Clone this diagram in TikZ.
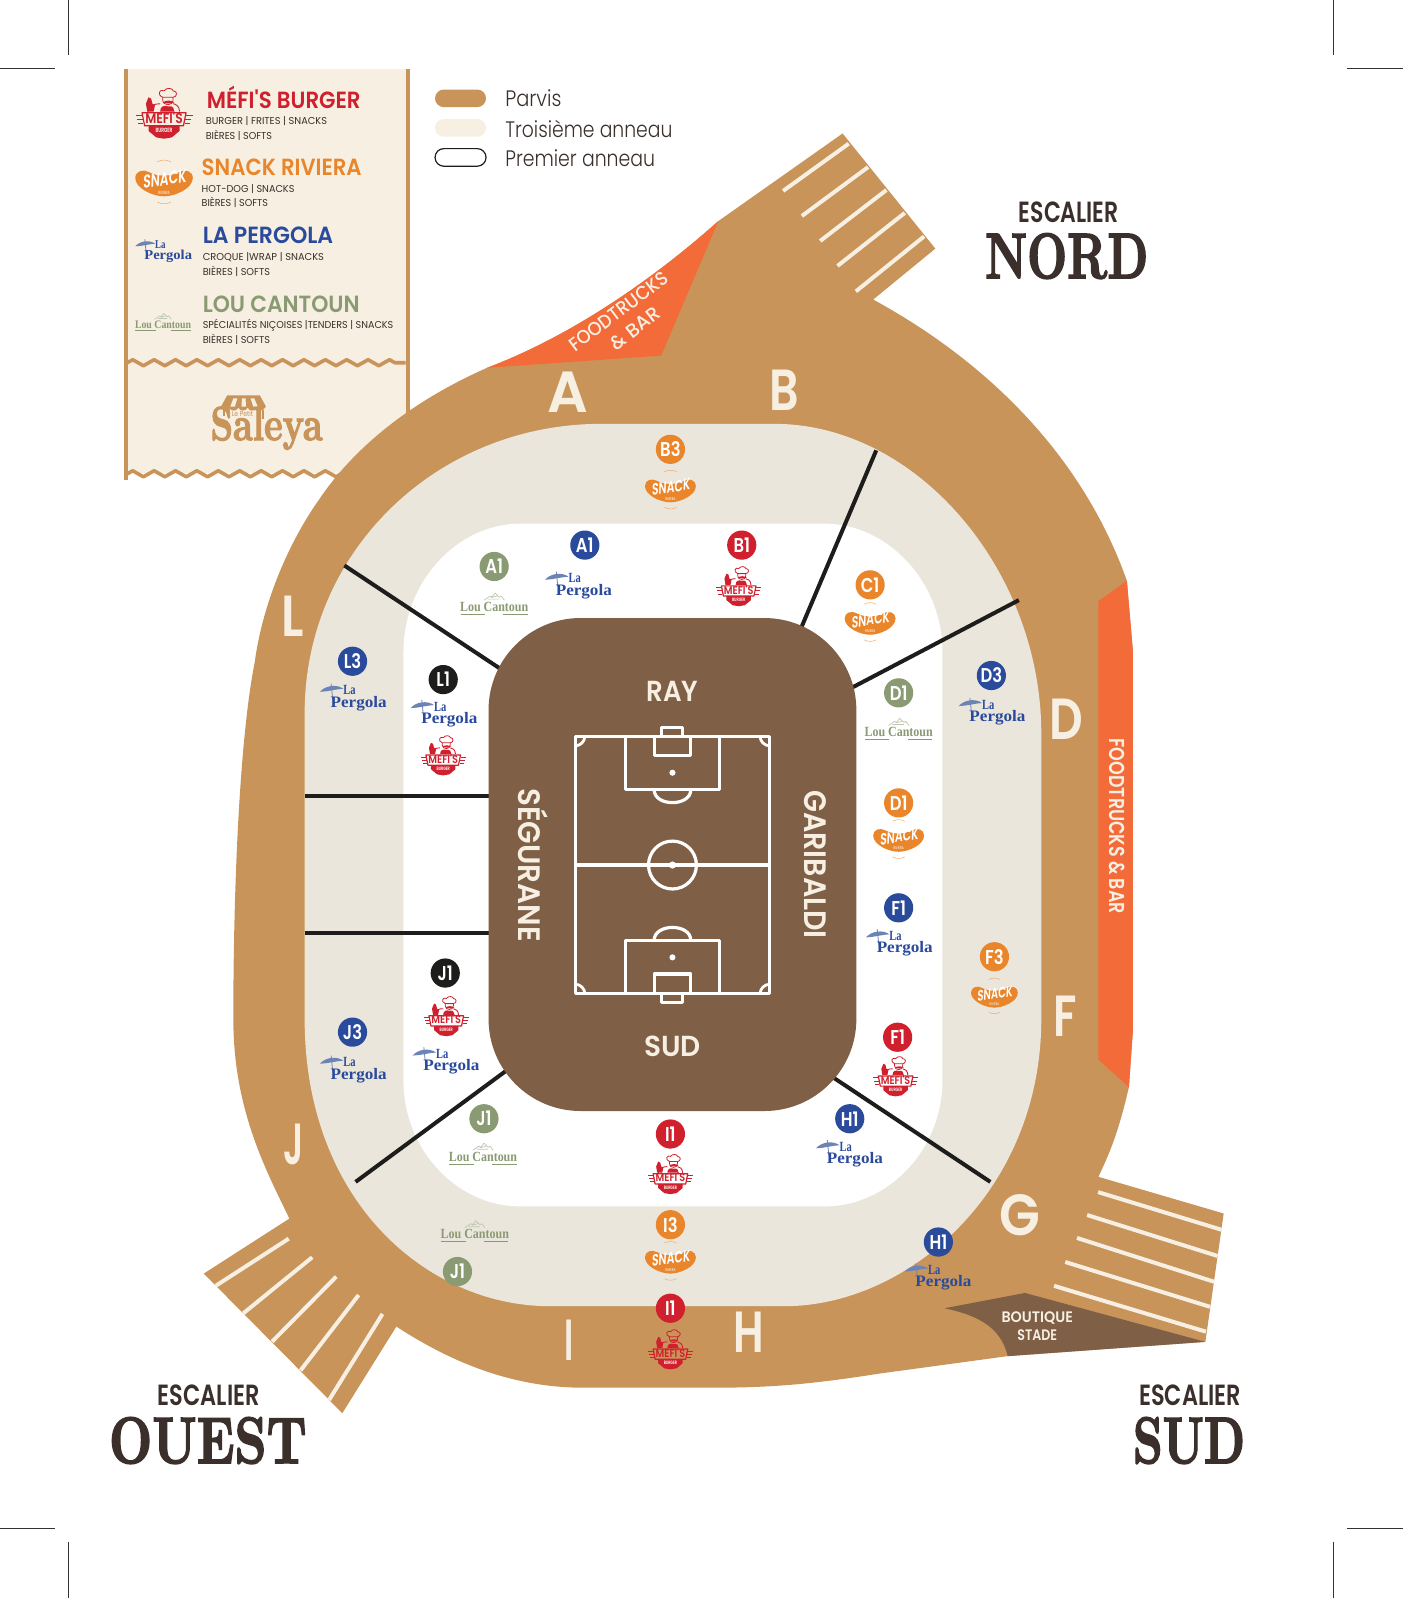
\documentclass[tikz,border=0pt]{standalone}
\usepackage{fontspec}
\usepackage{graphicx}
\usetikzlibrary{decorations.pathmorphing}
\newfontfamily\Fr{Poppins}
\newfontfamily\Fm{Poppins Medium}
\newfontfamily\Fb{Poppins SemiBold}
\newfontfamily\Fl{Poppins Light}
\newfontfamily\Fs{Liberation Serif}
\newfontfamily\Fd[FakeBold=2.5,Extension=.otf]{lmroman10-bold}
\newlength\uu \setlength\uu{0.50944pt}
\newcommand\tw[2]{\resizebox{#1\uu}{\height}{#2}}
\newcommand\fz[1]{\fontsize{#1}{#1}\selectfont}
\definecolor{parvis}{HTML}{C89459}
\definecolor{ring3}{HTML}{EBE6DC}
\definecolor{cream}{HTML}{F6EFE2}
\definecolor{brun}{HTML}{7F6047}
\definecolor{feu}{HTML}{F26B38}
\definecolor{sombre}{HTML}{3A2F2A}
\definecolor{mr}{HTML}{D0202E}
\definecolor{sn}{HTML}{E9862B}
\definecolor{pb}{HTML}{2A4A9C}
\definecolor{pu}{HTML}{6C84B4}
\definecolor{lc}{HTML}{8A9A72}
\definecolor{trait}{HTML}{1D1D1B}
\tikzset{
  lab/.style={inner sep=0pt,outer sep=0pt,anchor=base,transform shape},
  labw/.style={inner sep=0pt,outer sep=0pt,anchor=base west},
  badge/.style={circle,minimum size=14.6pt,inner sep=0pt,text=white,font=\Fb\fz{10}},
  stripe/.style={cream,line width=2pt},
  sep/.style={trait,line width=2pt},
  pitch/.style={white,line width=1.6pt,line join=round},
  crop/.style={black!80,line width=.4pt},
  swatch/.style={rounded corners=4.4pt,minimum width=25.5pt,minimum height=8.8pt,inner sep=0pt},
  mefi/.pic={
    % shoulders
    \draw[mr,line width=.45pt] (-12,-2) .. controls (-11,-7) and (-7,-8) .. (-3,-8) (12,-2) .. controls (12,-6) and (9,-8) .. (7,-8);
    \fill[mr] (-3,-2) .. controls (-3,-6) and (0,-7) .. (3,-6) .. controls (7,-7) and (8,-4) .. (8,-2) -- cycle;
    % thumb
    \fill[mr] (-13,-2) -- (-14,-8) -- (-12,-13) -- (-10,-12) -- (-9,-8) -- (-7,-7) -- (-8,-2) -- cycle;
    % head and hat
    \draw[mr,line width=.4pt] (-1,-11) .. controls (-1,-6) and (7,-6) .. (7,-11) -- (7,-13) -- (-1,-13) -- cycle;
    \draw[mr,line width=.4pt] (-1,-13) .. controls (-6,-15) and (-3,-20) .. (0,-18) .. controls (2,-21) and (7,-20) .. (7,-18) .. controls (11,-18) and (10,-13) .. (7,-13);
    \fill[mr] (-1,-9) .. controls (2,-11) and (5,-11) .. (8,-9) .. controls (5,-8) and (2,-8) .. (-1,-9) -- cycle;
    % banner
    \draw[mr,line width=.6pt,line join=round] (-17,-1) -- (17,-1) -- (15,9) -- (-15,9) -- cycle;
    \node[lab,text=mr] (-t) at (0,7) {\Fb\fz{5.6}\tw{29}{MEFI'S}};
    \draw[mr,line width=.5pt] (-22,1) -- (-17,1) (-21,4) -- (-16,4) (-20,7) -- (-16,7) (22,1) -- (17,1) (21,4) -- (16,4) (20,7) -- (16,7);
    \fill[mr] (-12,9) -- (12,9) -- (12,13) -- (6,18) -- (0,19) -- (-6,18) -- (-12,13) -- cycle;
    \node[lab,text=white] (-b) at (0,14.5) {\Fb\fz{2.4}\tw{13}{BURGER}};
  },
  snack/.pic={
    \fill[sn] (-25,-3) .. controls (-25,-9) and (-18,-11) .. (-13,-8) .. controls (-6,-4) and (6,-4) .. (13,-8) .. controls (18,-11) and (25,-9) .. (25,-3) .. controls (25,6) and (10,13) .. (0,13) .. controls (-10,13) and (-25,6) .. cycle;
    \node[lab,text=white,rotate=9,xslant=.2] (-t) at (0.5,3.5) {\Fb\fz{8}\tw{38}{SNACK}};
    \node[lab,text=white] (-b) at (0,11.2) {\Fr\fz{2}\tw{10}{RIVIERA}};
    \draw[sn!70,line width=.25pt] (-6,-17) .. controls (-2,-19) and (2,-19) .. (6,-17) (-6,18) .. controls (-2,20) and (2,20) .. (6,18);
  },
  pergola/.pic={
    \fill[pu] (-32,-5) .. controls (-27,-11) and (-16,-13) .. (-9,-8) -- (-14,-7.5) -- (-20,-6.5) -- (-26,-5.5) -- cycle;
    \draw[pu,line width=.4pt] (-21,-13) -- (-19.5,2);
    \node[lab,text=pb] (-a) at (-3,-2) {\Fs\bfseries\fz{7}\tw{12}{La}};
    \node[lab,text=pb] (-t) at (6,10) {\Fs\bfseries\fz{8}\tw{55}{Pergola}};
  },
  lou/.pic={
    \draw[lc!55,line width=.35pt,line join=round] (-10,-2) -- (-4,-6) -- (-2,-5) -- (1,-9) -- (5,-5) -- (7,-6) -- (10,-2) (-6,-3) -- (5,-3) (-3,-4.5) -- (3,-6);
    \node[lab,text=lc] (-t) at (0,9) {\Fs\bfseries\fz{7}\tw{67}{Lou Cantoun}};
    \draw[lc,line width=.3pt] (-33,11.6) -- (-9,11.6) (9,11.6) -- (33,11.6);
  }
}
\newcommand\bdg[5]{\node[badge,fill=#2] (#1) at (#3,#4) {\scalebox{.82}[1]{#5}};}
\begin{document}
\begin{tikzpicture}[x=0.50944pt,y=-0.50944pt]
\useasboundingbox[fill=white] (0,0) rectangle (1377,1568.4);
% crop marks
\draw[crop] (67,0) -- (67,54) (0,67) -- (54,67) (1309,0) -- (1309,54) (1322,67) -- (1377,67)
  (0,1500) -- (54,1500) (67,1513) -- (67,1568.4) (1309,1513) -- (1309,1568.4) (1322,1500) -- (1377,1500);
% panel
\fill[cream] (123,68) rectangle (400,464);
\draw[parvis,line width=2pt] (123.5,68) -- (123.5,471) (400,68) -- (400,405);
\draw[parvis,line width=1.8pt,line join=round,decorate,decoration={zigzag,segment length=10.7pt,amplitude=1.5pt}] (125,356) -- (398,356);
\draw[parvis,line width=1.8pt,line join=round,decorate,decoration={zigzag,segment length=10.7pt,amplitude=1.5pt}] (125,465) -- (345,465);
% parvis
\fill[parvis] (284,1196) .. controls (262,1150) and (229,1090) .. (229,1000)
  .. controls (229,860) and (236,720) .. (250,650)
  .. controls (258,590) and (285,530) .. (312.7,491)
  .. controls (340,450) and (390,400) .. (478,361)
  .. controls (560,330) and (640,275) .. (705,217)
  -- (827,131) -- (918,244) -- (857,294)
  .. controls (960,350) and (1060,440) .. (1106,570)
  -- (1112,640) -- (1112,1010) -- (1108,1067)
  .. controls (1098,1110) and (1090,1130) .. (1078,1155)
  -- (1201,1191) -- (1183,1317) -- (989,1331) -- (864,1348)
  .. controls (800,1358) and (760,1362) .. (700,1362)
  -- (573,1362) .. controls (500,1362) and (440,1335) .. (389,1302)
  -- (336,1387) -- (200,1250) -- cycle;
% third ring
\fill[ring3] (299,700) .. controls (299,540) and (430,416) .. (590,416) -- (760,416)
  .. controls (900,416) and (1022,560) .. (1022,720) -- (1022,1000)
  .. controls (1022,1170) and (890,1282) .. (770,1282) -- (540,1282)
  .. controls (420,1282) and (299,1180) .. (299,1000) -- cycle;
% first ring
\fill[white] (396,640) .. controls (396,570) and (450,514) .. (510,514) -- (810,514)
  .. controls (870,514) and (925,570) .. (925,640) -- (925,1060)
  .. controls (925,1130) and (870,1184) .. (810,1184) -- (510,1184)
  .. controls (450,1184) and (396,1130) .. (396,1060) -- cycle;
% separators
\draw[sep] (338,555) -- (492,657);
\draw[sep] (860,442) -- (786,617);
\draw[sep] (1000,589) -- (836,675);
\draw[sep] (299,781) -- (480,781);
\draw[sep] (299,916) -- (480,916);
\draw[sep] (349,1160) -- (498,1050);
\draw[sep] (972,1160) -- (817,1057);
% orange zones
\fill[feu] (478,361) .. controls (560,330) and (640,275) .. (705,217) -- (649,349) -- cycle;
\fill[feu] (1078,590) -- (1106,570) -- (1112,640) -- (1112,1010) -- (1108,1067) -- (1078,1040) -- cycle;
% boutique
\fill[brun] (927,1284) -- (1006,1269) -- (1183,1317) -- (989,1331) .. controls (982,1300) and (955,1290) .. (927,1284) -- cycle;
\node[lab,text=cream] (boutique) at (1018,1298) {\Fb\fz{7.6}\tw{70}{BOUTIQUE}};
\node[lab,text=cream] (stade) at (1018,1316) {\Fb\fz{7.6}\tw{39}{STADE}};
% stairs
\draw[stripe] (768.6,187.4) -- (833,141) (787,212) -- (852,164) (805,236.5) -- (870,186.5) (822,261) -- (888,209) (840,286) -- (907,232);
\draw[stripe] (1077.7,1170) -- (1199,1207) (1067,1192.5) -- (1195,1232.7) (1057,1215) -- (1191.6,1258) (1045.5,1238.6) -- (1187.6,1282.6) (1034.5,1262) -- (1183.6,1307);
\draw[stripe] (283.4,1215.7) -- (211.7,1262) (306.4,1234) -- (238.8,1289) (330,1253) -- (267,1316.8) (352,1271) -- (295,1345) (375.4,1289.6) -- (323,1374);
% stadium
\node[fill=brun,rounded corners=46pt,minimum width=183.9pt,minimum height=246.5pt,inner sep=0pt] (bowl) at (660,848.5) {};
\draw[pitch] (564.5,722.5) rectangle (755.5,975);
\draw[pitch] (564.5,849) -- (755.5,849);
\draw[pitch] (660,849) circle (23.5);
\fill[white] (660,849) circle (3.5);
\draw[pitch] (614,722.5) -- (614,775) -- (706,775) -- (706,722.5);
\draw[pitch] (642,722.5) -- (642,741.7) -- (678,741.7) -- (678,722.5);
\draw[pitch] (649.4,722.5) -- (649.4,714) -- (669.7,714) -- (669.7,722.5);
\fill[white] (660,758.4) circle (3);
\draw[pitch] (642,775) .. controls (642,792) and (678,792) .. (678,775);
\draw[pitch] (614,975) -- (614,923) -- (706,923) -- (706,975);
\draw[pitch] (642,975) -- (642,956) -- (678,956) -- (678,975);
\draw[pitch] (649.4,975) -- (649.4,984) -- (669.7,984) -- (669.7,975);
\fill[white] (660,939.6) circle (3);
\draw[pitch] (642,923) .. controls (642,906) and (678,906) .. (678,923);
\draw[pitch,line width=1.4pt] (564.5,732) arc[start angle=90,end angle=0,radius=9.5] (755.5,732) arc[start angle=90,end angle=180,radius=9.5]
  (564.5,966) arc[start angle=-90,end angle=0,radius=9.5] (755.5,966) arc[start angle=-90,end angle=-180,radius=9.5];
\node[lab,text=cream] (ray) at (660,688.7) {\Fb\fz{14.5}\tw{51}{RAY}};
\node[lab,text=cream] (sud) at (660,1036.6) {\Fb\fz{14.5}\tw{55.6}{SUD}};
\node[lab,text=cream,rotate=-90] (segurane) at (508.6,849) {\Fb\fz{15.5}\tw{150.5}{SÉGURANE}};
\node[lab,text=cream,rotate=-90] (garibaldi) at (790,848.5) {\Fb\fz{15.5}\tw{146}{GARIBALDI}};
% section letters
\node[lab,text=cream] (sA) at (557,405) {\Fb\fz{29}\tw{40}{A}};
\node[lab,text=cream] (sB) at (769.5,403) {\Fb\fz{29}\tw{29}{B}};
\node[lab,text=cream] (sL) at (287,625) {\Fb\fz{29}\tw{22}{L}};
\node[lab,text=cream] (sD) at (1046.5,726) {\Fb\fz{29}\tw{33}{D}};
\node[lab,text=cream] (sF) at (1045.5,1017) {\Fb\fz{29}\tw{23}{F}};
\node[lab,text=cream] (sG) at (1001,1213) {\Fb\fz{29}\tw{40}{G}};
\node[lab,text=cream] (sH) at (735,1327) {\Fb\fz{29}\tw{30}{H}};
\node[lab,text=cream] (sI) at (558.5,1335) {\Fb\fz{29}\tw{9}{I}};
\node[lab,text=cream] (sJ) at (288,1143) {\Fb\fz{29}\tw{20}{J}};
% foodtrucks
\node[lab,text=cream,rotate=37] (ft1) at (611,311) {\Fm\fz{9.6}\tw{116}{FOODTRUCKS}};
\node[lab,text=cream,rotate=38] (ft2) at (627.5,327.6) {\Fm\fz{9.6}\tw{56}{\& BAR}};
\node[lab,text=cream,rotate=-90] (ft3) at (1089,811) {\Fb\fz{10.8}\tw{172}{FOODTRUCKS \& BAR}};
% escaliers
\node[lab,text=sombre] (en) at (1049,218) {\Fb\fz{14.6}\tw{98}{ESCALIER}};
\node[lab,text=sombre] (nn) at (1047,273) {\resizebox{160\uu}{44\uu}{\Fd NORD}};
\node[lab,text=sombre] (eo) at (205,1379) {\Fb\fz{14.6}\tw{100}{ESCALIER}};
\node[lab,text=sombre] (no) at (204,1436) {\resizebox{194\uu}{45\uu}{\Fd OUEST}};
\node[lab,text=sombre] (es) at (1168,1379) {\Fb\fz{14.6}\tw{100}{ESCALIER}};
\node[lab,text=sombre] (ns) at (1167,1436) {\resizebox{110\uu}{45\uu}{\Fd SUD}};
% legend
\node[swatch,fill=parvis] (sw1) at (452,96.5) {};
\node[swatch,fill=cream] (sw2) at (452,125.5) {};
\node[swatch,draw=trait,line width=.6pt,fill=white] (sw3) at (452,154.5) {};
\node[labw,text=sombre] (tw1) at (496,105) {\Fl\fz{11.2}\tw{55}{Parvis}};
\node[labw,text=sombre] (tw2) at (496,135) {\Fl\fz{11.2}\tw{164}{Troisième anneau}};
\node[labw,text=sombre] (tw3) at (496,163) {\Fl\fz{11.2}\tw{147}{Premier anneau}};
% menu
\node[labw,text=mr] (m1) at (203,106) {\Fb\fz{11.7}\tw{151}{MÉFI'S BURGER}};
\node[labw,text=sombre] (m1a) at (202,122) {\Fr\fz{5}\tw{119}{BURGER | FRITES | SNACKS}};
\node[labw,text=sombre] (m1b) at (202,136.5) {\Fr\fz{5}\tw{65}{BIÈRES | SOFTS}};
\node[labw,text=sn] (m2) at (198,172) {\Fb\fz{11.7}\tw{157}{SNACK RIVIERA}};
\node[labw,text=sombre] (m2a) at (198,188.5) {\Fr\fz{5}\tw{91}{HOT-DOG | SNACKS}};
\node[labw,text=sombre] (m2b) at (198,202.5) {\Fr\fz{5}\tw{65}{BIÈRES | SOFTS}};
\node[labw,text=pb] (m3) at (199,239) {\Fb\fz{11.7}\tw{128}{LA PERGOLA}};
\node[labw,text=sombre] (m3a) at (199,255.5) {\Fr\fz{5}\tw{119}{CROQUE |WRAP | SNACKS}};
\node[labw,text=sombre] (m3b) at (199,270) {\Fr\fz{5}\tw{66}{BIÈRES | SOFTS}};
\node[labw,text=lc] (m4) at (199,307) {\Fb\fz{11.7}\tw{154}{LOU CANTOUN}};
\node[labw,text=sombre] (m4a) at (199,322.5) {\Fr\fz{5}\tw{187}{SPÉCIALITÉS NIÇOISES |TENDERS | SNACKS}};
\node[labw,text=sombre] (m4b) at (199,337) {\Fr\fz{5}\tw{66}{BIÈRES | SOFTS}};
\pic[scale=1.27] (lm) at (161,112) {mefi};
\pic[scale=1.13] (ls) at (161,178) {snack};
\pic[scale=.85] (lp) at (160,246) {pergola};
\pic[scale=.82] (ll) at (160,315) {lou};
% Saleya
\fill[parvis] (223,388) -- (255,388) -- (261,399) .. controls (258,404) and (254,404) .. (252,400) .. controls (250,404) and (245,404) .. (243,400)
  .. controls (241,404) and (236,404) .. (234,400) .. controls (232,404) and (227,404) .. (225,400) .. controls (223,404) and (219,404) .. (217,399) -- cycle;
\fill[cream] (229,391) -- (233,391) -- (230.5,399) -- (226,399) -- cycle;
\fill[cream] (237.5,391) -- (241,391) -- (241.5,399) -- (237,399) -- cycle;
\fill[cream] (246,391) -- (249.5,391) -- (253,399) -- (248.5,399) -- cycle;
\draw[parvis,line width=.8pt] (258,402) -- (258,411) (220,402) -- (220,408);
\node[lab,text=parvis] (petit) at (238,409) {\Fr\fz{3.6}\tw{21}{Le Petit}};
\node[lab,text=parvis] (saleya) at (261.7,432) {\Fd\fz{24}\tw{110}{Saleya}};
% badges
\bdg{b1}{sn}{658}{441}{B3}
\bdg{b2}{lc}{485}{556}{A1}
\bdg{b3}{pb}{574}{535}{A1}
\bdg{b4}{mr}{728}{535}{B1}
\bdg{b5}{sn}{854}{574}{C1}
\bdg{b6}{lc}{882}{680}{D1}
\bdg{b7}{pb}{973}{663}{D3}
\bdg{b8}{sn}{882}{788}{D1}
\bdg{b9}{pb}{882}{891}{F1}
\bdg{b10}{sn}{976}{939}{F3}
\bdg{b11}{mr}{881}{1018}{F1}
\bdg{b12}{pb}{834}{1098}{H1}
\bdg{b13}{mr}{658}{1113}{I1}
\bdg{b14}{lc}{475}{1098}{J1}
\bdg{b15}{trait}{437}{955}{J1}
\bdg{b16}{trait}{435}{667}{L1}
\bdg{b17}{pb}{346}{649}{L3}
\bdg{b18}{pb}{346}{1013}{J3}
\bdg{b19}{sn}{658}{1202}{I3}
\bdg{b20}{mr}{658}{1284}{I1}
\bdg{b21}{lc}{449}{1248}{J1}
\bdg{b22}{pb}{921}{1219}{H1}
% logos
\pic (s1) at (658,480) {snack};
\pic (s2) at (854,610) {snack};
\pic (s3) at (882,823) {snack};
\pic[scale=.92] (s4) at (976,977) {snack};
\pic (s5) at (658,1237) {snack};
\pic (m1l) at (725,576) {mefi};
\pic (m2l) at (879,1057) {mefi};
\pic (m3l) at (658,1153) {mefi};
\pic (m4l) at (435,742) {mefi};
\pic (m5l) at (438,998) {mefi};
\pic (m6l) at (658,1325) {mefi};
\pic (p1) at (567,574) {pergola};
\pic (p2) at (973,698) {pergola};
\pic (p3) at (882,925) {pergola};
\pic (p4) at (833,1132) {pergola};
\pic (p5) at (346,684) {pergola};
\pic (p6) at (435,700) {pergola};
\pic (p7) at (437,1041) {pergola};
\pic (p8) at (346,1049) {pergola};
\pic (p9) at (920,1253) {pergola};
\pic (l1) at (485,591) {lou};
\pic (l2) at (882,714) {lou};
\pic (l3) at (474,1131) {lou};
\pic (l4) at (466,1207) {lou};
\end{tikzpicture}
\end{document}
